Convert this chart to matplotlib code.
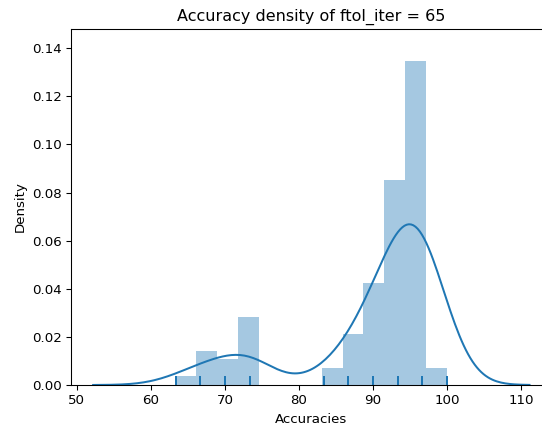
import numpy as np
import matplotlib
matplotlib.use("Agg")
from matplotlib import pyplot as plt

# accuracy values (percent) and how many runs got each one
acc_values = [63.333, 66.667, 70.0, 73.333, 83.333, 86.667, 90.0, 93.333, 96.667, 100.0]
acc_counts = [1, 4, 3, 8, 2, 6, 12, 24, 38, 2]
ftol_iter = 65
n_bins = 13

accuracies = np.repeat(acc_values, acc_counts)

fig = plt.figure(figsize=(542 / 96, 427 / 96), dpi=96)
ax = fig.add_axes([71 / 542, 42 / 427, 480 / 542, 356 / 427])

ax.hist(accuracies, bins=n_bins, density=True, color="C0", alpha=0.4)

# gaussian kde, scott bandwidth, cut = 3
bw = accuracies.std(ddof=1) * len(accuracies) ** (-1 / 5)
grid = np.linspace(accuracies.min() - 3 * bw, accuracies.max() + 3 * bw, 200)
dens = np.exp(-0.5 * ((grid[:, None] - accuracies[None, :]) / bw) ** 2).sum(axis=1)
dens /= len(accuracies) * bw * np.sqrt(2 * np.pi)
ax.plot(grid, dens, color="C0", lw=1.5)

# rug
ax.vlines(acc_values, 0, 0.025, transform=ax.get_xaxis_transform(), color="C0", lw=1.5)

ax.set_xlim(49.2, 114.05)
ax.set_ylim(0, 0.148)
ax.set_title("Accuracy density of ftol_iter = %d" % ftol_iter)
ax.set_xlabel("Accuracies")
ax.set_ylabel("Density")

fig.savefig("out.png")
